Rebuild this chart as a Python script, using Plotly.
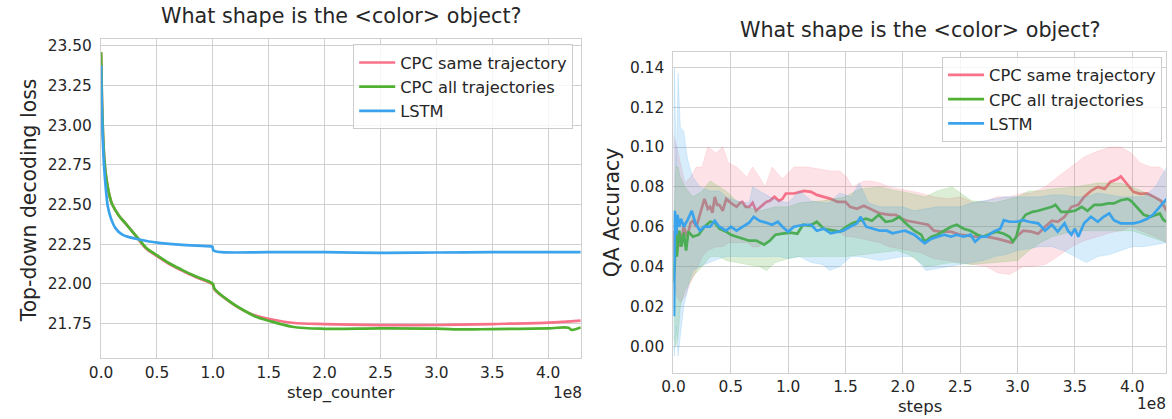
import plotly.graph_objects as go

W, H = 1172, 419
PINK, GREEN, BLUE = "#f77189", "#50b131", "#3ba3ec"
PINK_F, GREEN_F, BLUE_F = "rgba(247,113,137,0.2)", "rgba(80,177,49,0.2)", "rgba(59,163,236,0.2)"
SERIES = ["CPC same trajectory", "CPC all trajectories", "LSTM"]
TITLE = "What shape is the &lt;color&gt; object?"

# ---------- left panel: top-down decoding loss (x in units of 1e8 steps) ----------
loss_pink = [(0.0, 23.46), (0.01, 23.10), (0.02, 22.90), (0.03, 22.78), (0.044, 22.68), (0.074, 22.56),
             (0.10, 22.50), (0.16, 22.43), (0.22, 22.38), (0.28, 22.33), (0.34, 22.275), (0.40, 22.225),
             (0.50, 22.175), (0.61, 22.125), (0.72, 22.085), (0.84, 22.045), (0.98, 22.005), (1.0, 21.995),
             (1.015, 21.965), (1.14, 21.893), (1.26, 21.838), (1.38, 21.80), (1.50, 21.78), (1.71, 21.755),
             (2.0, 21.746), (2.5, 21.74), (3.0, 21.741), (3.5, 21.747), (4.0, 21.756), (4.29, 21.769)]
loss_green = [(0.0, 23.46), (0.01, 23.10), (0.02, 22.90), (0.03, 22.78), (0.044, 22.68), (0.074, 22.56),
              (0.10, 22.50), (0.16, 22.43), (0.22, 22.38), (0.28, 22.33), (0.34, 22.28), (0.40, 22.23),
              (0.50, 22.18), (0.61, 22.13), (0.72, 22.09), (0.84, 22.05), (0.98, 22.01), (1.0, 22.00),
              (1.015, 21.97), (1.14, 21.895), (1.26, 21.84), (1.38, 21.795), (1.50, 21.768), (1.71, 21.73),
              (2.0, 21.717), (2.5, 21.72), (3.0, 21.718), (3.24, 21.713), (3.5, 21.715), (4.0, 21.72),
              (4.18, 21.724), (4.21, 21.71), (4.29, 21.726)]
loss_blue = [(0.0, 23.378), (0.009, 23.04), (0.02, 22.83), (0.03, 22.71), (0.04, 22.62), (0.06, 22.49),
             (0.09, 22.41), (0.13, 22.35), (0.19, 22.31), (0.25, 22.295), (0.34, 22.28), (0.50, 22.26),
             (0.70, 22.247), (0.98, 22.237), (0.995, 22.235), (1.006, 22.21), (1.08, 22.20), (1.5, 22.20),
             (2.0, 22.20), (2.5, 22.196), (3.0, 22.198), (3.5, 22.20), (4.0, 22.20), (4.29, 22.20)]

# ---------- right panel: QA accuracy ----------
acc_pink = [(0.0, 0.058), (0.015, 0.045), (0.03, 0.058), (0.06, 0.050), (0.09, 0.060), (0.12, 0.055),
            (0.15, 0.062), (0.17, 0.063), (0.20, 0.060), (0.23, 0.066), (0.25, 0.070), (0.27, 0.074),
            (0.30, 0.069), (0.32, 0.070), (0.34, 0.067), (0.36, 0.075), (0.38, 0.071), (0.40, 0.071),
            (0.43, 0.068), (0.46, 0.074), (0.50, 0.072), (0.55, 0.070), (0.58, 0.072), (0.60, 0.0725),
            (0.63, 0.070), (0.66, 0.070), (0.69, 0.072), (0.72, 0.068), (0.76, 0.070), (0.81, 0.0725),
            (0.84, 0.073), (0.88, 0.075), (0.92, 0.073), (0.95, 0.074), (0.98, 0.0767), (1.05, 0.0767),
            (1.14, 0.078), (1.20, 0.0775), (1.25, 0.076), (1.31, 0.075), (1.37, 0.074), (1.43, 0.0725),
            (1.50, 0.0725), (1.54, 0.070), (1.60, 0.069), (1.66, 0.0705), (1.71, 0.069), (1.80, 0.0667),
            (1.89, 0.066), (1.94, 0.066), (1.99, 0.064), (2.04, 0.063), (2.13, 0.062), (2.22, 0.061),
            (2.27, 0.058), (2.33, 0.0575), (2.42, 0.0575), (2.50, 0.056), (2.62, 0.055), (2.73, 0.055),
            (2.82, 0.054), (2.91, 0.0525), (2.95, 0.052), (2.99, 0.055), (3.05, 0.058), (3.12, 0.0575),
            (3.18, 0.0565), (3.24, 0.060), (3.30, 0.063), (3.35, 0.0625), (3.41, 0.065), (3.47, 0.070),
            (3.53, 0.071), (3.58, 0.075), (3.64, 0.078), (3.70, 0.080), (3.76, 0.079), (3.81, 0.0825),
            (3.87, 0.084), (3.90, 0.0853), (3.96, 0.081), (4.01, 0.0775), (4.07, 0.0765), (4.13, 0.0767),
            (4.19, 0.075), (4.25, 0.073), (4.30, 0.068)]
band_pink = [(0.0, 0.030, 0.106), (0.03, 0.025, 0.100), (0.06, 0.022, 0.092), (0.10, 0.025, 0.082),
             (0.15, 0.032, 0.085), (0.20, 0.038, 0.090), (0.25, 0.045, 0.090), (0.30, 0.048, 0.100),
             (0.37, 0.050, 0.097), (0.43, 0.050, 0.100), (0.48, 0.052, 0.092), (0.55, 0.052, 0.090),
             (0.64, 0.052, 0.085), (0.69, 0.050, 0.090), (0.75, 0.050, 0.085), (0.80, 0.053, 0.080),
             (0.86, 0.055, 0.090), (0.95, 0.057, 0.084), (1.00, 0.058, 0.087), (1.05, 0.060, 0.090),
             (1.17, 0.062, 0.090), (1.28, 0.060, 0.089), (1.37, 0.058, 0.088), (1.45, 0.057, 0.088),
             (1.51, 0.055, 0.085), (1.56, 0.055, 0.080), (1.66, 0.054, 0.083), (1.72, 0.053, 0.083),
             (1.80, 0.052, 0.082), (1.88, 0.050, 0.080), (1.97, 0.049, 0.079), (2.05, 0.048, 0.078),
             (2.15, 0.047, 0.077), (2.27, 0.044, 0.075), (2.40, 0.043, 0.074), (2.50, 0.042, 0.075),
             (2.62, 0.041, 0.072), (2.73, 0.040, 0.073), (2.82, 0.037, 0.075), (2.93, 0.036, 0.075),
             (3.05, 0.040, 0.077), (3.12, 0.040, 0.077), (3.24, 0.041, 0.080), (3.35, 0.045, 0.085),
             (3.47, 0.050, 0.090), (3.58, 0.053, 0.095), (3.70, 0.055, 0.098), (3.81, 0.057, 0.100),
             (3.90, 0.058, 0.100), (3.99, 0.060, 0.097), (4.07, 0.058, 0.092), (4.16, 0.056, 0.090),
             (4.24, 0.054, 0.090), (4.30, 0.052, 0.087)]

acc_green = [(0.0, 0.032), (0.01, 0.040), (0.02, 0.057), (0.03, 0.045), (0.05, 0.058), (0.07, 0.050),
             (0.09, 0.057), (0.11, 0.048), (0.13, 0.0575), (0.17, 0.055), (0.22, 0.056), (0.27, 0.060),
             (0.32, 0.0625), (0.36, 0.062), (0.40, 0.059), (0.46, 0.0575), (0.50, 0.056), (0.55, 0.055),
             (0.60, 0.054), (0.66, 0.053), (0.72, 0.053), (0.75, 0.052), (0.79, 0.051), (0.84, 0.053),
             (0.89, 0.056), (0.95, 0.0565), (1.02, 0.057), (1.08, 0.0565), (1.13, 0.061), (1.19, 0.0605),
             (1.25, 0.0625), (1.31, 0.059), (1.39, 0.058), (1.45, 0.0575), (1.51, 0.060), (1.56, 0.0617),
             (1.62, 0.063), (1.68, 0.064), (1.73, 0.063), (1.79, 0.066), (1.85, 0.0625), (1.91, 0.063),
             (1.97, 0.065), (2.02, 0.062), (2.10, 0.058), (2.16, 0.056), (2.19, 0.0525), (2.25, 0.055),
             (2.30, 0.056), (2.36, 0.058), (2.42, 0.060), (2.47, 0.061), (2.53, 0.059), (2.59, 0.058),
             (2.65, 0.056), (2.70, 0.055), (2.76, 0.0565), (2.82, 0.0575), (2.88, 0.0565), (2.93, 0.055),
             (2.96, 0.0525), (2.99, 0.055), (3.02, 0.062), (3.07, 0.066), (3.13, 0.0675), (3.18, 0.068),
             (3.24, 0.069), (3.30, 0.070), (3.33, 0.071), (3.38, 0.0675), (3.44, 0.0675), (3.50, 0.068),
             (3.56, 0.070), (3.61, 0.068), (3.67, 0.071), (3.73, 0.071), (3.79, 0.0717), (3.84, 0.0717),
             (3.90, 0.0733), (3.96, 0.074), (3.99, 0.073), (4.04, 0.070), (4.10, 0.066), (4.16, 0.065),
             (4.20, 0.066), (4.24, 0.0667), (4.27, 0.0635), (4.30, 0.0625)]
band_green = [(0.0, 0.005, 0.060), (0.02, 0.000, 0.090), (0.04, 0.005, 0.090), (0.06, 0.020, 0.085),
              (0.10, 0.028, 0.080), (0.17, 0.035, 0.075), (0.25, 0.040, 0.078), (0.32, 0.045, 0.083),
              (0.40, 0.045, 0.080), (0.46, 0.043, 0.078), (0.55, 0.042, 0.073), (0.64, 0.041, 0.070),
              (0.75, 0.040, 0.068), (0.81, 0.038, 0.069), (0.89, 0.042, 0.070), (1.00, 0.044, 0.070),
              (1.10, 0.045, 0.072), (1.30, 0.045, 0.073), (1.50, 0.045, 0.075), (1.62, 0.046, 0.079),
              (1.80, 0.047, 0.080), (1.95, 0.048, 0.078), (2.05, 0.046, 0.077), (2.20, 0.040, 0.075),
              (2.30, 0.041, 0.078), (2.43, 0.042, 0.080), (2.60, 0.041, 0.073), (2.80, 0.042, 0.072),
              (3.00, 0.043, 0.075), (3.10, 0.048, 0.078), (3.20, 0.052, 0.078), (3.30, 0.055, 0.079),
              (3.50, 0.058, 0.080), (3.70, 0.058, 0.082), (3.90, 0.058, 0.082), (4.00, 0.058, 0.080),
              (4.20, 0.054, 0.075), (4.30, 0.052, 0.072)]

acc_blue = [(0.0, 0.032), (0.005, 0.015), (0.012, 0.068), (0.025, 0.056), (0.035, 0.066), (0.05, 0.060),
            (0.065, 0.064), (0.09, 0.060), (0.12, 0.063), (0.16, 0.068), (0.19, 0.062), (0.23, 0.058),
            (0.27, 0.060), (0.32, 0.060), (0.36, 0.063), (0.40, 0.060), (0.46, 0.058), (0.50, 0.060),
            (0.55, 0.058), (0.60, 0.060), (0.66, 0.062), (0.70, 0.065), (0.75, 0.063), (0.81, 0.062),
            (0.86, 0.061), (0.91, 0.0625), (0.95, 0.060), (1.00, 0.0575), (1.05, 0.060), (1.14, 0.061),
            (1.20, 0.061), (1.25, 0.058), (1.31, 0.059), (1.37, 0.0567), (1.43, 0.0575), (1.48, 0.058),
            (1.54, 0.060), (1.60, 0.0617), (1.63, 0.065), (1.68, 0.060), (1.74, 0.059), (1.80, 0.058),
            (1.86, 0.058), (1.91, 0.0567), (1.97, 0.0575), (2.02, 0.058), (2.10, 0.056), (2.16, 0.053),
            (2.19, 0.0517), (2.25, 0.054), (2.30, 0.055), (2.36, 0.056), (2.42, 0.055), (2.47, 0.056),
            (2.53, 0.055), (2.59, 0.056), (2.63, 0.0525), (2.68, 0.055), (2.73, 0.055), (2.79, 0.0575),
            (2.85, 0.059), (2.88, 0.0633), (2.93, 0.0625), (2.99, 0.0625), (3.05, 0.0633), (3.10, 0.0625),
            (3.18, 0.0617), (3.24, 0.058), (3.30, 0.061), (3.35, 0.0575), (3.41, 0.0617), (3.44, 0.058),
            (3.47, 0.056), (3.50, 0.059), (3.53, 0.055), (3.58, 0.0617), (3.64, 0.065), (3.70, 0.0625),
            (3.75, 0.065), (3.80, 0.0667), (3.84, 0.0633), (3.90, 0.0617), (3.96, 0.0617), (4.01, 0.0617),
            (4.07, 0.0625), (4.13, 0.064), (4.18, 0.066), (4.24, 0.070), (4.30, 0.074)]
band_blue = [(0.0, 0.000, 0.100), (0.008, -0.005, 0.140), (0.025, 0.010, 0.090), (0.04, -0.005, 0.137),
             (0.06, 0.005, 0.110), (0.09, 0.020, 0.108), (0.12, 0.027, 0.095), (0.14, 0.033, 0.090),
             (0.17, 0.038, 0.085), (0.23, 0.040, 0.080), (0.32, 0.042, 0.078), (0.40, 0.044, 0.078),
             (0.46, 0.045, 0.075), (0.55, 0.045, 0.073), (0.66, 0.045, 0.072), (0.69, 0.045, 0.080),
             (0.75, 0.045, 0.078), (0.84, 0.045, 0.075), (0.92, 0.045, 0.073), (1.00, 0.044, 0.072),
             (1.10, 0.045, 0.078), (1.20, 0.042, 0.073), (1.30, 0.041, 0.072), (1.36, 0.038, 0.072),
             (1.45, 0.040, 0.077), (1.55, 0.045, 0.075), (1.62, 0.045, 0.082), (1.70, 0.044, 0.072),
             (1.80, 0.043, 0.070), (2.00, 0.045, 0.070), (2.10, 0.045, 0.068), (2.20, 0.038, 0.069),
             (2.30, 0.039, 0.070), (2.40, 0.040, 0.070), (2.50, 0.041, 0.070), (2.60, 0.042, 0.072),
             (2.70, 0.043, 0.073), (2.80, 0.045, 0.074), (2.90, 0.046, 0.075), (3.00, 0.048, 0.075),
             (3.10, 0.049, 0.075), (3.20, 0.050, 0.075), (3.30, 0.050, 0.076), (3.40, 0.048, 0.076),
             (3.50, 0.045, 0.075), (3.60, 0.042, 0.075), (3.70, 0.045, 0.077), (3.80, 0.046, 0.076),
             (3.90, 0.048, 0.075), (4.00, 0.050, 0.075), (4.10, 0.050, 0.075), (4.20, 0.051, 0.080),
             (4.30, 0.052, 0.090)]

x_tickvals = [0, 0.5, 1.0, 1.5, 2.0, 2.5, 3.0, 3.5, 4.0]
x_ticktext = ["0.0", "0.5", "1.0", "1.5", "2.0", "2.5", "3.0", "3.5", "4.0"]
loss_ticks = [21.75, 22.00, 22.25, 22.50, 22.75, 23.00, 23.25, 23.50]
acc_ticks = [0.00, 0.02, 0.04, 0.06, 0.08, 0.10, 0.12, 0.14]
SCALE = 1e8

fig = go.Figure()


def unzip(pairs):
    return [p[0] * SCALE for p in pairs], [p[1] for p in pairs]


def add_line(pairs, color, name, xa, ya, legend, show, shape="linear"):
    xs, ys = unzip(pairs)
    fig.add_trace(go.Scatter(x=xs, y=ys, mode="lines", name=name, legend=legend, showlegend=show,
                             line=dict(color=color, width=2.7, shape=shape), xaxis=xa, yaxis=ya,
                             hoverinfo="skip"))


def add_band(band, fill, xa, ya):
    xs = [b[0] * SCALE for b in band]
    lo = [b[1] for b in band]
    hi = [b[2] for b in band]
    fig.add_trace(go.Scatter(x=xs + xs[::-1], y=hi + lo[::-1], mode="lines", fill="toself",
                             fillcolor=fill, line=dict(width=0.8, color=fill), showlegend=False,
                             xaxis=xa, yaxis=ya, hoverinfo="skip"))


for pairs, col, nm in zip([loss_pink, loss_green, loss_blue], [PINK, GREEN, BLUE], SERIES):
    add_line(pairs, col, nm, "x", "y", "legend", True, shape="spline")

for pairs, band, col, fc, nm in zip([acc_pink, acc_green, acc_blue], [band_pink, band_green, band_blue],
                                    [PINK, GREEN, BLUE], [PINK_F, GREEN_F, BLUE_F], SERIES):
    add_line(pairs, col, nm, "x2", "y2", "legend2", True)
    add_band(band, fc, "x2", "y2")

TXT = "#262626"
GRID = "#d0d0d0"
FONT = "DejaVu Sans"
TICK = 15.4


def xax(domain, anchor):
    return dict(domain=domain, anchor=anchor, range=[0, 4.295e8], tickvals=[v * SCALE for v in x_tickvals],
                ticktext=x_ticktext, showgrid=True, gridcolor=GRID, gridwidth=1.3, zeroline=False,
                showline=True, linecolor=GRID, linewidth=1.3, mirror=True, ticks="", ticklen=0,
                tickfont=dict(size=TICK, color=TXT, family=FONT), ticklabelstandoff=0)


def yax(domain, anchor, rng, ticks, fmt):
    return dict(domain=domain, anchor=anchor, range=rng, tickvals=ticks, tickformat=fmt,
                showgrid=True, gridcolor=GRID, gridwidth=1.3, zeroline=False,
                showline=True, linecolor=GRID, linewidth=1.3, mirror=True, ticks="", ticklen=0,
                tickfont=dict(size=TICK, color=TXT, family=FONT), ticklabelstandoff=5)


L = (90, 575, 37.7, 358)
R = (668.3, 1166, 50.7, 372.7)

legend_style = dict(xanchor="right", yanchor="top", bgcolor="rgba(255,255,255,0.8)",
                    bordercolor="#cccccc", borderwidth=1, font=dict(size=16.3, color=TXT, family=FONT),
                    itemwidth=36, tracegroupgap=0)

fig.update_layout(
    width=W, height=H, margin=dict(l=0, r=0, t=0, b=0),
    paper_bgcolor="white", plot_bgcolor="white",
    font=dict(family=FONT, color=TXT),
    xaxis=xax([L[0] / W, L[1] / W], "y"),
    yaxis=yax([1 - L[3] / H, 1 - L[2] / H], "x", [21.532, 23.546], loss_ticks, ".2f"),
    xaxis2=xax([R[0] / W, R[1] / W], "y2"),
    yaxis2=yax([1 - R[3] / H, 1 - R[2] / H], "x2", [-0.0134, 0.148], acc_ticks, ".2f"),
    legend=dict(x=567 / W, y=1 - 43.5 / H, **legend_style),
    legend2=dict(x=1162 / W, y=1 - 56 / H, **legend_style),
    showlegend=True,
)

ann = [
    dict(text=TITLE, x=(L[0] + L[1]) / 2 / W, y=1 - 15 / H, size=20.7, angle=0),
    dict(text=TITLE, x=(R[0] + R[1]) / 2 / W, y=1 - 29.5 / H, size=20.7, angle=0),
    dict(text="Top-down decoding loss", x=17 / W, y=1 - 200 / H, size=20.4, angle=-90),
    dict(text="QA Accuracy", x=607 / W, y=1 - 212 / H, size=20.4, angle=-90),
    dict(text="step_counter", x=(L[0] + L[1]) / 2 / W, y=1 - 393 / H, size=16.5, angle=0),
    dict(text="steps", x=(R[0] + R[1]) / 2 / W, y=1 - 406.5 / H, size=16.5, angle=0),
]
for a in ann:
    fig.add_annotation(text=a["text"], x=a["x"], y=a["y"], xref="paper", yref="paper", showarrow=False,
                       xanchor="center", yanchor="middle", textangle=a["angle"],
                       font=dict(size=a["size"], color=TXT, family=FONT))
fig.add_annotation(text="1e8", x=578 / W, y=1 - 393 / H, xref="paper", yref="paper", showarrow=False,
                   xanchor="right", yanchor="middle", font=dict(size=TICK, color=TXT, family=FONT))
fig.add_annotation(text="1e8", x=1168 / W, y=1 - 404 / H, xref="paper", yref="paper", showarrow=False,
                   xanchor="right", yanchor="middle", font=dict(size=TICK, color=TXT, family=FONT))

fig.write_html("out.html", config={"displayModeBar": False},
               post_script="document.body.style.margin='0';document.body.style.padding='0';")
